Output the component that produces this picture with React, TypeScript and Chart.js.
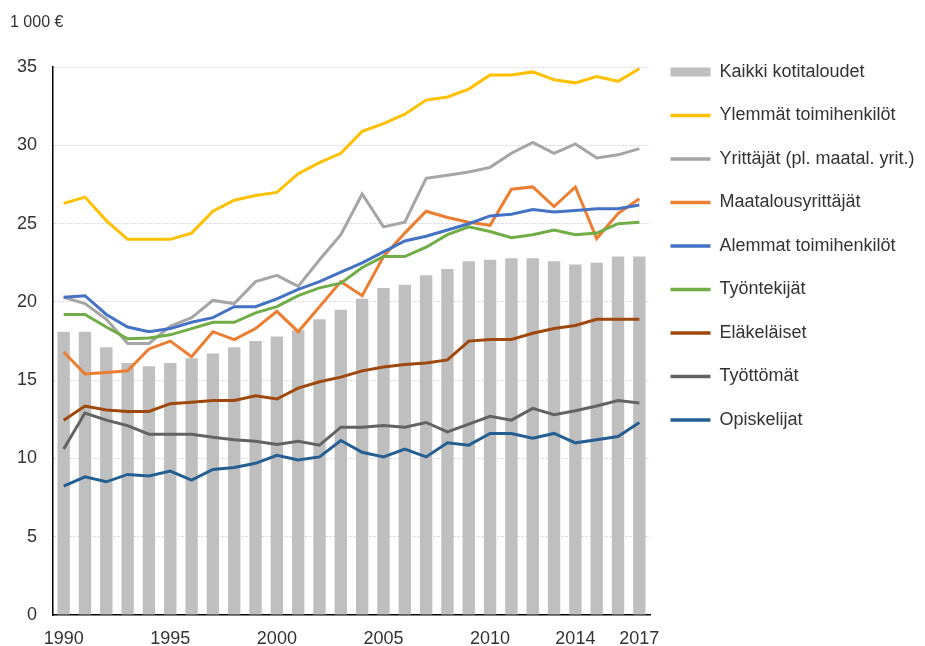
import React, { useEffect, useRef } from 'react';
import { Chart, registerables } from 'chart.js';

Chart.register(...registerables);

const years = ['1990','1991','1992','1993','1994','1995','1996','1997','1998','1999','2000','2001','2002','2003','2004','2005','2006','2007','2008','2009','2010','2011','2012','2013','2014','2015','2016','2017'];
const xTickLabels = ['1990', '1995', '2000', '2005', '2010', '2014', '2017'];

const kaikki = [18.1, 18.1, 17.1, 16.1, 15.9, 16.1, 16.4, 16.7, 17.1, 17.5, 17.8, 18.2, 18.9, 19.5, 20.2, 20.9, 21.1, 21.7, 22.1, 22.6, 22.7, 22.8, 22.8, 22.6, 22.4, 22.5, 22.9, 22.9];
const ylemmat = [26.3, 26.7, 25.2, 24.0, 24.0, 24.0, 24.4, 25.8, 26.5, 26.8, 27.0, 28.2, 28.9, 29.5, 30.9, 31.4, 32.0, 32.9, 33.1, 33.6, 34.5, 34.5, 34.7, 34.2, 34.0, 34.4, 34.1, 34.9];
const yrittajat = [20.3, 19.9, 18.9, 17.35, 17.35, 18.45, 19.0, 20.1, 19.9, 21.3, 21.7, 21.0, 22.7, 24.3, 26.9, 24.8, 25.1, 27.9, 28.1, 28.3, 28.6, 29.5, 30.2, 29.5, 30.1, 29.2, 29.4, 29.8];
const maatalous = [16.8, 15.4, 15.5, 15.6, 17.0, 17.5, 16.5, 18.1, 17.6, 18.3, 19.4, 18.1, 19.7, 21.3, 20.4, 22.9, 24.4, 25.8, 25.4, 25.1, 24.9, 27.2, 27.35, 26.1, 27.35, 24.05, 25.65, 26.6];
const alemmat = [20.3, 20.4, 19.2, 18.4, 18.1, 18.3, 18.7, 19.0, 19.7, 19.7, 20.2, 20.8, 21.3, 21.9, 22.5, 23.2, 23.9, 24.2, 24.6, 25.0, 25.5, 25.6, 25.9, 25.75, 25.85, 25.95, 25.95, 26.2];
const tyontekijat = [19.2, 19.2, 18.4, 17.65, 17.7, 17.9, 18.3, 18.7, 18.7, 19.3, 19.7, 20.4, 20.9, 21.2, 22.2, 22.9, 22.9, 23.5, 24.3, 24.8, 24.5, 24.1, 24.3, 24.6, 24.3, 24.4, 25.0, 25.1];
const elakelaiset = [12.45, 13.35, 13.1, 13.0, 13.0, 13.5, 13.6, 13.7, 13.7, 14.0, 13.8, 14.5, 14.9, 15.2, 15.6, 15.85, 16.0, 16.1, 16.3, 17.5, 17.6, 17.6, 18.0, 18.3, 18.5, 18.9, 18.9, 18.9];
const tyottomat = [10.6, 12.9, 12.45, 12.1, 11.55, 11.55, 11.55, 11.35, 11.2, 11.1, 10.9, 11.1, 10.85, 12.0, 12.0, 12.1, 12.0, 12.3, 11.7, 12.2, 12.7, 12.45, 13.2, 12.8, 13.05, 13.35, 13.7, 13.55];
const opiskelijat = [8.24, 8.83, 8.51, 8.98, 8.88, 9.2, 8.62, 9.3, 9.43, 9.69, 10.2, 9.9, 10.1, 11.15, 10.4, 10.1, 10.6, 10.1, 11.0, 10.85, 11.6, 11.6, 11.3, 11.6, 11.0, 11.2, 11.4, 12.3];

const lineSeries = [
  { label: 'Ylemmät toimihenkilöt', data: ylemmat, color: '#FFC000' },
  { label: 'Yrittäjät (pl. maatal. yrit.)', data: yrittajat, color: '#A5A5A5' },
  { label: 'Maatalousyrittäjät', data: maatalous, color: '#ED7D31' },
  { label: 'Alemmat toimihenkilöt', data: alemmat, color: '#4472C4' },
  { label: 'Työntekijät', data: tyontekijat, color: '#70AD47' },
  { label: 'Eläkeläiset', data: elakelaiset, color: '#9E480E' },
  { label: 'Työttömät', data: tyottomat, color: '#636363' },
  { label: 'Opiskelijat', data: opiskelijat, color: '#255E91' },
];

const FONT = "'Liberation Sans', Arial, sans-serif";
const TEXT = '#333333';

const shiftLegend = {
  id: 'shiftLegend',
  afterLayout(chart: any) {
    const l = chart.legend;
    if (l) { l.left -= 5; l.right -= 5; }
  },
};

export default function App() {
  const ref = useRef<HTMLCanvasElement>(null);
  useEffect(() => {
    const canvas = ref.current;
    if (!canvas) return;
    const total = lineSeries.length + 1;
    const datasets: any[] = [
      {
        type: 'bar',
        label: 'Kaikki kotitaloudet',
        data: kaikki,
        backgroundColor: '#BFBFBF',
        borderWidth: 0,
        barPercentage: 0.58,
        categoryPercentage: 1,
        order: total,
      },
      ...lineSeries.map((s, i) => ({
        type: 'line',
        label: s.label,
        data: s.data,
        borderColor: s.color,
        backgroundColor: s.color,
        borderWidth: 3,
        pointRadius: 0,
        pointHoverRadius: 0,
        pointBorderWidth: 3,
        pointStyle: 'line',
        tension: 0,
        fill: false,
        clip: false,
        order: total - 1 - i,
      })),
    ];
    const chart = new Chart(canvas, {
      type: 'bar',
      data: { labels: years, datasets },
      plugins: [shiftLegend],
      options: {
        responsive: false,
        animation: false,
        layout: { padding: { left: 10, right: 0, top: 0, bottom: 0 } },
        font: { family: FONT },
        plugins: {
          tooltip: { enabled: false },
          title: {
            display: true,
            text: '1 000 €',
            align: 'start',
            color: TEXT,
            font: { family: FONT, size: 16, weight: 'normal' },
            padding: { top: 13, bottom: 35 },
          },
          legend: {
            display: true,
            position: 'right',
            align: 'start',
            maxWidth: 275,
            title: { display: true, text: ' ', font: { size: 10 }, padding: { top: 25.5, bottom: 0 } },
            labels: {
              color: TEXT,
              font: { family: FONT, size: 18 },
              usePointStyle: true,
              pointStyleWidth: 40,
              boxHeight: 9,
              padding: 25.5,
              sort: (a: any, b: any) => a.datasetIndex - b.datasetIndex,
              generateLabels: (ch: any) => {
                const items = (Chart as any).defaults.plugins.legend.labels.generateLabels(ch);
                return items.map((it: any) => {
                  if (it.datasetIndex === 0) {
                    return { ...it, pointStyle: 'rect', lineWidth: 0, fillStyle: '#BFBFBF', strokeStyle: '#BFBFBF' };
                  }
                  const s = lineSeries[it.datasetIndex - 1];
                  return { ...it, pointStyle: 'line', lineWidth: 3.5, strokeStyle: s.color, fillStyle: s.color };
                });
              },
            },
          },
        },
        scales: {
          x: {
            grid: { display: false, drawTicks: false },
            border: { display: true, color: '#000000', width: 1.5 },
            ticks: {
              autoSkip: false,
              maxRotation: 0,
              padding: 13,
              color: TEXT,
              font: { family: FONT, size: 18 },
              callback: function (this: any, _v: any, idx: number) {
                const lab = years[idx];
                return xTickLabels.includes(lab) ? lab : '';
              },
            },
            afterFit: (scale: any) => { scale.height = 31; },
          },
          y: {
            min: 0,
            max: 35,
            grid: {
              drawTicks: false,
              color: (ctx: any) => (ctx.tick && ctx.tick.value === 0 ? 'rgba(0,0,0,0)' : '#cfcfdc'),
              lineWidth: 1,
            },
            border: { display: true, color: '#000000', width: 1.5, dash: [2, 2] },
            ticks: {
              stepSize: 5,
              padding: 16,
              color: TEXT,
              font: { family: FONT, size: 18 },
            },
            afterFit: (scale: any) => { scale.width = 43; },
          },
        },
      } as any,
    });
    return () => chart.destroy();
  }, []);
  return (
    <div style={{ position: 'absolute', left: 0, top: 0, width: 925, height: 646, background: '#ffffff' }}>
      <canvas ref={ref} width={925} height={646} style={{ display: 'block' }} />
    </div>
  );
}
